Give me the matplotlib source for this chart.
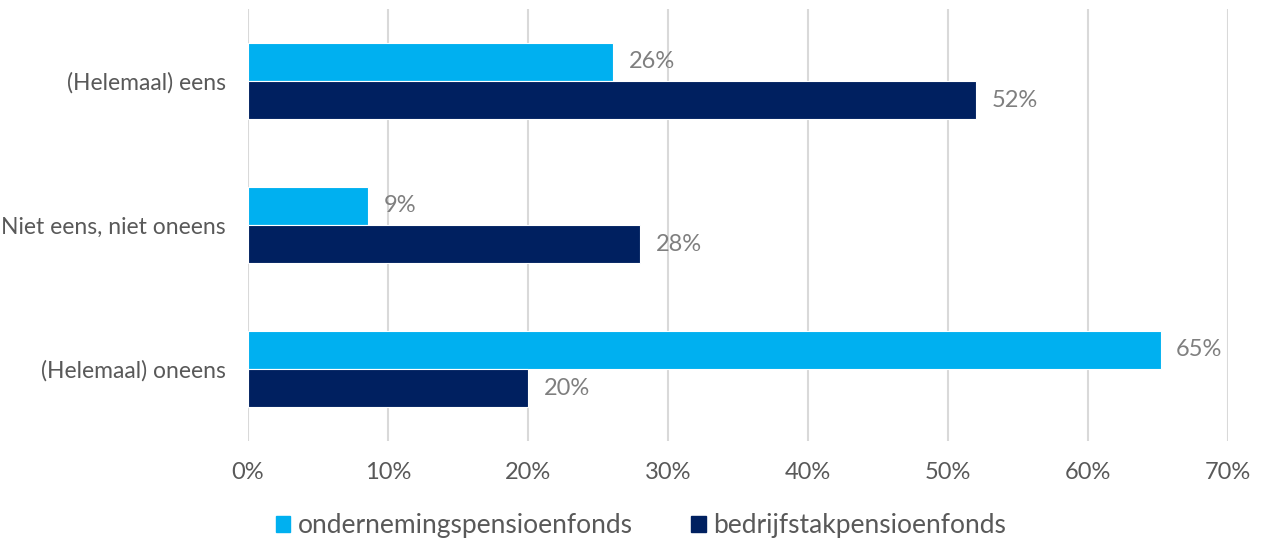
import numpy as np
import matplotlib.pyplot as plt
from matplotlib.patches import Patch

plt.rcParams['font.family'] = ['Lato', 'DejaVu Sans']

categories = ["(Helemaal) eens", "Niet eens, niet oneens", "(Helemaal) oneens"]
onderneming = [26.1, 8.6, 65.2]
bedrijfstak = [52.0, 28.0, 20.0]
labels_ond = ["26%", "9%", "65%"]
labels_bed = ["52%", "28%", "20%"]
series_names = ["ondernemingspensioenfonds", "bedrijfstakpensioenfonds"]

c_light = "#00B0F0"
c_dark = "#002060"

fig = plt.figure(figsize=(12.61, 5.42), dpi=100)
ax = fig.add_axes([248 / 1261, 1 - 441 / 542, (1228 - 248) / 1261, 432 / 542])

y = np.arange(len(categories))
h = 0.264
ax.barh(y - h / 2, onderneming, height=h, color=c_light, edgecolor="white", linewidth=0.8, zorder=3)
ax.barh(y + h / 2, bedrijfstak, height=h, color=c_dark, edgecolor="white", linewidth=0.8, zorder=3)

for yi, v, s in zip(y, onderneming, labels_ond):
    ax.text(v + 1.1, yi - h / 2, s, va="center", ha="left", fontsize=17, color="#7F7F7F")
for yi, v, s in zip(y, bedrijfstak, labels_bed):
    ax.text(v + 1.1, yi + h / 2, s, va="center", ha="left", fontsize=17, color="#7F7F7F")

ax.set_xlim(0, 70)
ax.set_ylim(2.5, -0.5)
ax.set_xticks(np.arange(0, 71, 10))
ax.set_xticklabels([f"{t}%" for t in range(0, 71, 10)])
ax.set_yticks(y)
ax.set_yticklabels(categories)
ax.tick_params(axis="both", length=0, labelcolor="#595959")
ax.tick_params(axis="x", pad=15, labelsize=17)
ax.tick_params(axis="y", pad=16, labelsize=16.5)
ax.grid(axis="x", color="#D9D9D9", linewidth=1.5, zorder=0)
for sp in ax.spines.values():
    sp.set_visible(False)

handles = [Patch(color=c_light), Patch(color=c_dark)]
leg = fig.legend(handles, series_names, loc="center", bbox_to_anchor=(641 / 1261, 1 - 526 / 542),
                 ncol=2, frameon=False, fontsize=19, handlelength=0.55, handleheight=0.55,
                 handletextpad=0.3, columnspacing=2.2)
for t in leg.get_texts():
    t.set_color("#595959")

fig.savefig("out.png", dpi=100)
